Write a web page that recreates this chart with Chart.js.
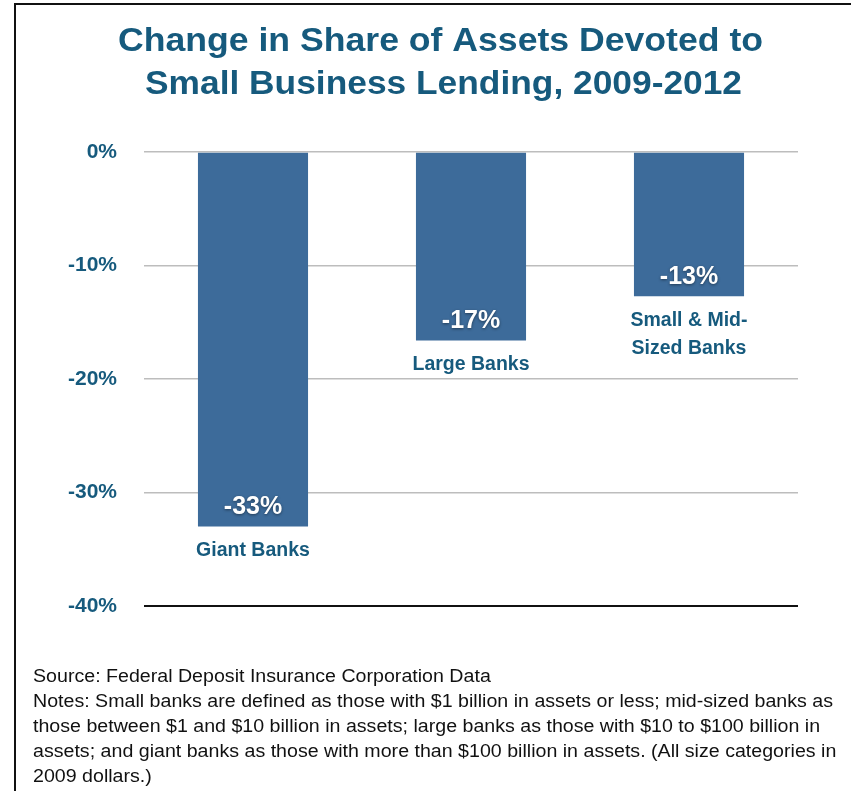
<!DOCTYPE html>
<html>
<head>
<meta charset="utf-8">
<script src="https://cdn.jsdelivr.net/npm/chart.js@4/dist/chart.umd.min.js"></script>
<style>
  html, body { margin: 0; padding: 0; background: #fff; }
  canvas { display: block; }
</style>
</head>
<body>
<canvas id="chart" width="851" height="791"></canvas>
<script>
// data
const categories = [['Giant Banks'], ['Large Banks'], ['Small & Mid-', 'Sized Banks']];
const changes = [-33, -16.6, -12.7];
const valueLabels = ['-33%', '-17%', '-13%'];
const yTicks = [0, -10, -20, -30, -40];

const titleLines = ['Change in Share of Assets Devoted to', 'Small Business Lending, 2009-2012'];
const footerLines = [
  'Source: Federal Deposit Insurance Corporation Data',
  'Notes: Small banks are defined as those with $1 billion in assets or less; mid-sized banks as',
  'those between $1 and $10 billion in assets; large banks as those with $10 to $100 billion in',
  'assets; and giant banks as those with more than $100 billion in assets. (All size categories in',
  '2009 dollars.)'
];

const TEAL = '#165a7d';
const BAR = '#3d6b9a';
const FONT = '"Liberation Sans", Arial, sans-serif';

const extras = {
  id: 'extras',
  afterDraw(chart) {
    const ctx = chart.ctx;
    ctx.save();
    // frame
    ctx.strokeStyle = '#111';
    ctx.lineWidth = 2;
    ctx.beginPath();
    ctx.moveTo(15, 791);
    ctx.lineTo(15, 4);
    ctx.lineTo(851, 4);
    ctx.stroke();

    // title, stretched a little to match the wider original face
    ctx.fillStyle = TEAL;
    ctx.font = 'bold 33px ' + FONT;
    ctx.textAlign = 'center';
    ctx.textBaseline = 'middle';
    const titleW = [645, 597];
    const titleX = [440.5, 443.5];
    titleLines.forEach((t, i) => {
      const m = ctx.measureText(t).width;
      ctx.save();
      ctx.translate(titleX[i], 42 + i * 43);
      ctx.scale(titleW[i] / m, 1);
      ctx.fillText(t, 0, 0);
      ctx.restore();
    });

    // footer notes
    ctx.fillStyle = '#111';
    ctx.font = '17.5px ' + FONT;
    ctx.textAlign = 'left';
    ctx.textBaseline = 'middle';
    const k = 800 / ctx.measureText(footerLines[1]).width;
    footerLines.forEach((t, i) => {
      ctx.save();
      ctx.translate(33, 677 + i * 25);
      ctx.scale(k, 1);
      ctx.fillText(t, 0, 0);
      ctx.restore();
    });
    ctx.restore();
  },
  afterDatasetsDraw(chart) {
    const ctx = chart.ctx;
    const meta = chart.getDatasetMeta(0);
    ctx.save();
    ctx.textAlign = 'center';
    ctx.textBaseline = 'middle';
    meta.data.forEach((bar, i) => {
      // value label inside the bar end
      ctx.save();
      ctx.shadowColor = 'rgba(0,0,0,0.45)';
      ctx.shadowBlur = 3;
      ctx.shadowOffsetY = 1;
      ctx.fillStyle = '#fff';
      ctx.font = 'bold 25px ' + FONT;
      ctx.fillText(valueLabels[i], bar.x, bar.y - 19);
      ctx.restore();
      // category label below the bar
      ctx.fillStyle = TEAL;
      ctx.font = 'bold 19.5px ' + FONT;
      categories[i].forEach((line, j) => {
        ctx.fillText(line, bar.x, bar.y + 24 + j * 28);
      });
    });
    ctx.restore();
  }
};

new Chart(document.getElementById('chart'), {
  type: 'bar',
  data: {
    labels: categories.map(c => c.join(' ')),
    datasets: [{
      data: changes,
      backgroundColor: BAR,
      borderWidth: 0,
      barPercentage: 0.505,
      categoryPercentage: 1
    }]
  },
  options: {
    responsive: false,
    animation: false,
    layout: { padding: { left: 0, top: 152, right: 53, bottom: 185 } },
    plugins: { legend: { display: false }, tooltip: { enabled: false } },
    scales: {
      x: { display: false },
      y: {
        min: -40,
        max: 0,
        afterFit(scale) { scale.width = 144; },
        afterBuildTicks(scale) { scale.ticks = yTicks.map(v => ({ value: v })); },
        border: { display: false },
        grid: {
          drawTicks: false,
          color: ctx => ctx.tick && ctx.tick.value === -40 ? '#111' : '#bdbdbd',
          lineWidth: ctx => ctx.tick && ctx.tick.value === -40 ? 2 : 1.5
        },
        ticks: {
          padding: 27,
          color: TEAL,
          font: { family: FONT, size: 21, weight: 'bold' },
          callback: v => v + '%'
        }
      }
    }
  },
  plugins: [extras]
});
</script>
</body>
</html>
